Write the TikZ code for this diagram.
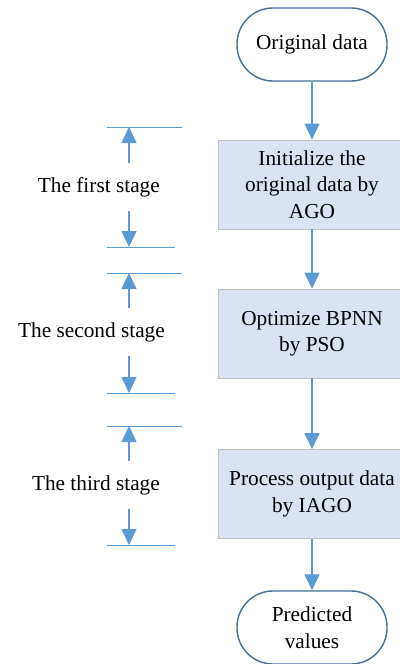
\documentclass[tikz,border=0pt]{standalone}
\usepackage{fontspec}
\setmainfont{Liberation Serif}
\usetikzlibrary{arrows.meta}
\definecolor{flowblue}{HTML}{5B9BD5}
\definecolor{termedge}{HTML}{41719C}
\definecolor{boxfill}{HTML}{DAE3F3}
\definecolor{boxedge}{HTML}{BFBFBF}
\begin{document}
\begin{tikzpicture}[x=1pt,y=-1pt,
  every node/.style={font=\fontsize{21.3}{26.5}\selectfont, inner sep=0pt},
  terminal/.style={draw=termedge, line width=1.4pt, fill=white, rounded corners=36pt,
    minimum width=150pt, minimum height=73pt, align=center},
  procbox/.style={draw=boxedge, line width=0.8pt, fill=boxfill,
    minimum width=188pt, minimum height=89pt, align=center},
  flow/.style={draw=flowblue, line width=1.2pt, -{Triangle[length=16pt,width=15pt]}},
  tick/.style={draw=flowblue, line width=1pt},
  stagelabel/.style={anchor=east}]
\useasboundingbox (0,0) rectangle (399,664);

% main flow
\node[terminal] (start) at (312,44.5) {Original data};
\node[procbox] (ago) at (312,184.5) {Initialize the\\original data by\\AGO};
\node[procbox] (pso) at (312,333.5) {Optimize BPNN\\by PSO};
\node[procbox] (iago) at (312,494) {Process output data\\by IAGO};
\node[terminal] (stop) at (312,627.5) {Predicted\\values};

\draw[flow] (start.south) -- (ago.north);
\draw[flow] (ago.south) -- (pso.north);
\draw[flow] (pso.south) -- (iago.north);
\draw[flow] (iago.south) -- (stop.north);

% stage markers
\foreach \n/\top/\upend/\lab/\labx/\dnstart/\bot/\txt in {
  one/127/163/187/160/211/247/{The first stage},
  two/273/308/332/165/356/393/{The second stage},
  three/426/461/485/160/509/545/{The third stage}} {
  \coordinate (\n-tl) at (107,\top);
  \coordinate (\n-tr) at (182,\top);
  \coordinate (\n-bl) at (107,\bot);
  \coordinate (\n-br) at (175,\bot);
  \coordinate (\n-ua) at (129,\upend);
  \coordinate (\n-ut) at (129,\top);
  \coordinate (\n-da) at (129,\dnstart);
  \coordinate (\n-dt) at (129,\bot);
  \node[stagelabel] (\n-lab) at (\labx,\lab) {\txt};
  \draw[tick] (\n-tl) -- (\n-tr);
  \draw[tick] (\n-bl) -- (\n-br);
  \draw[flow] (\n-ua) -- (\n-ut);
  \draw[flow] (\n-da) -- (\n-dt);
}
\end{tikzpicture}
\end{document}
